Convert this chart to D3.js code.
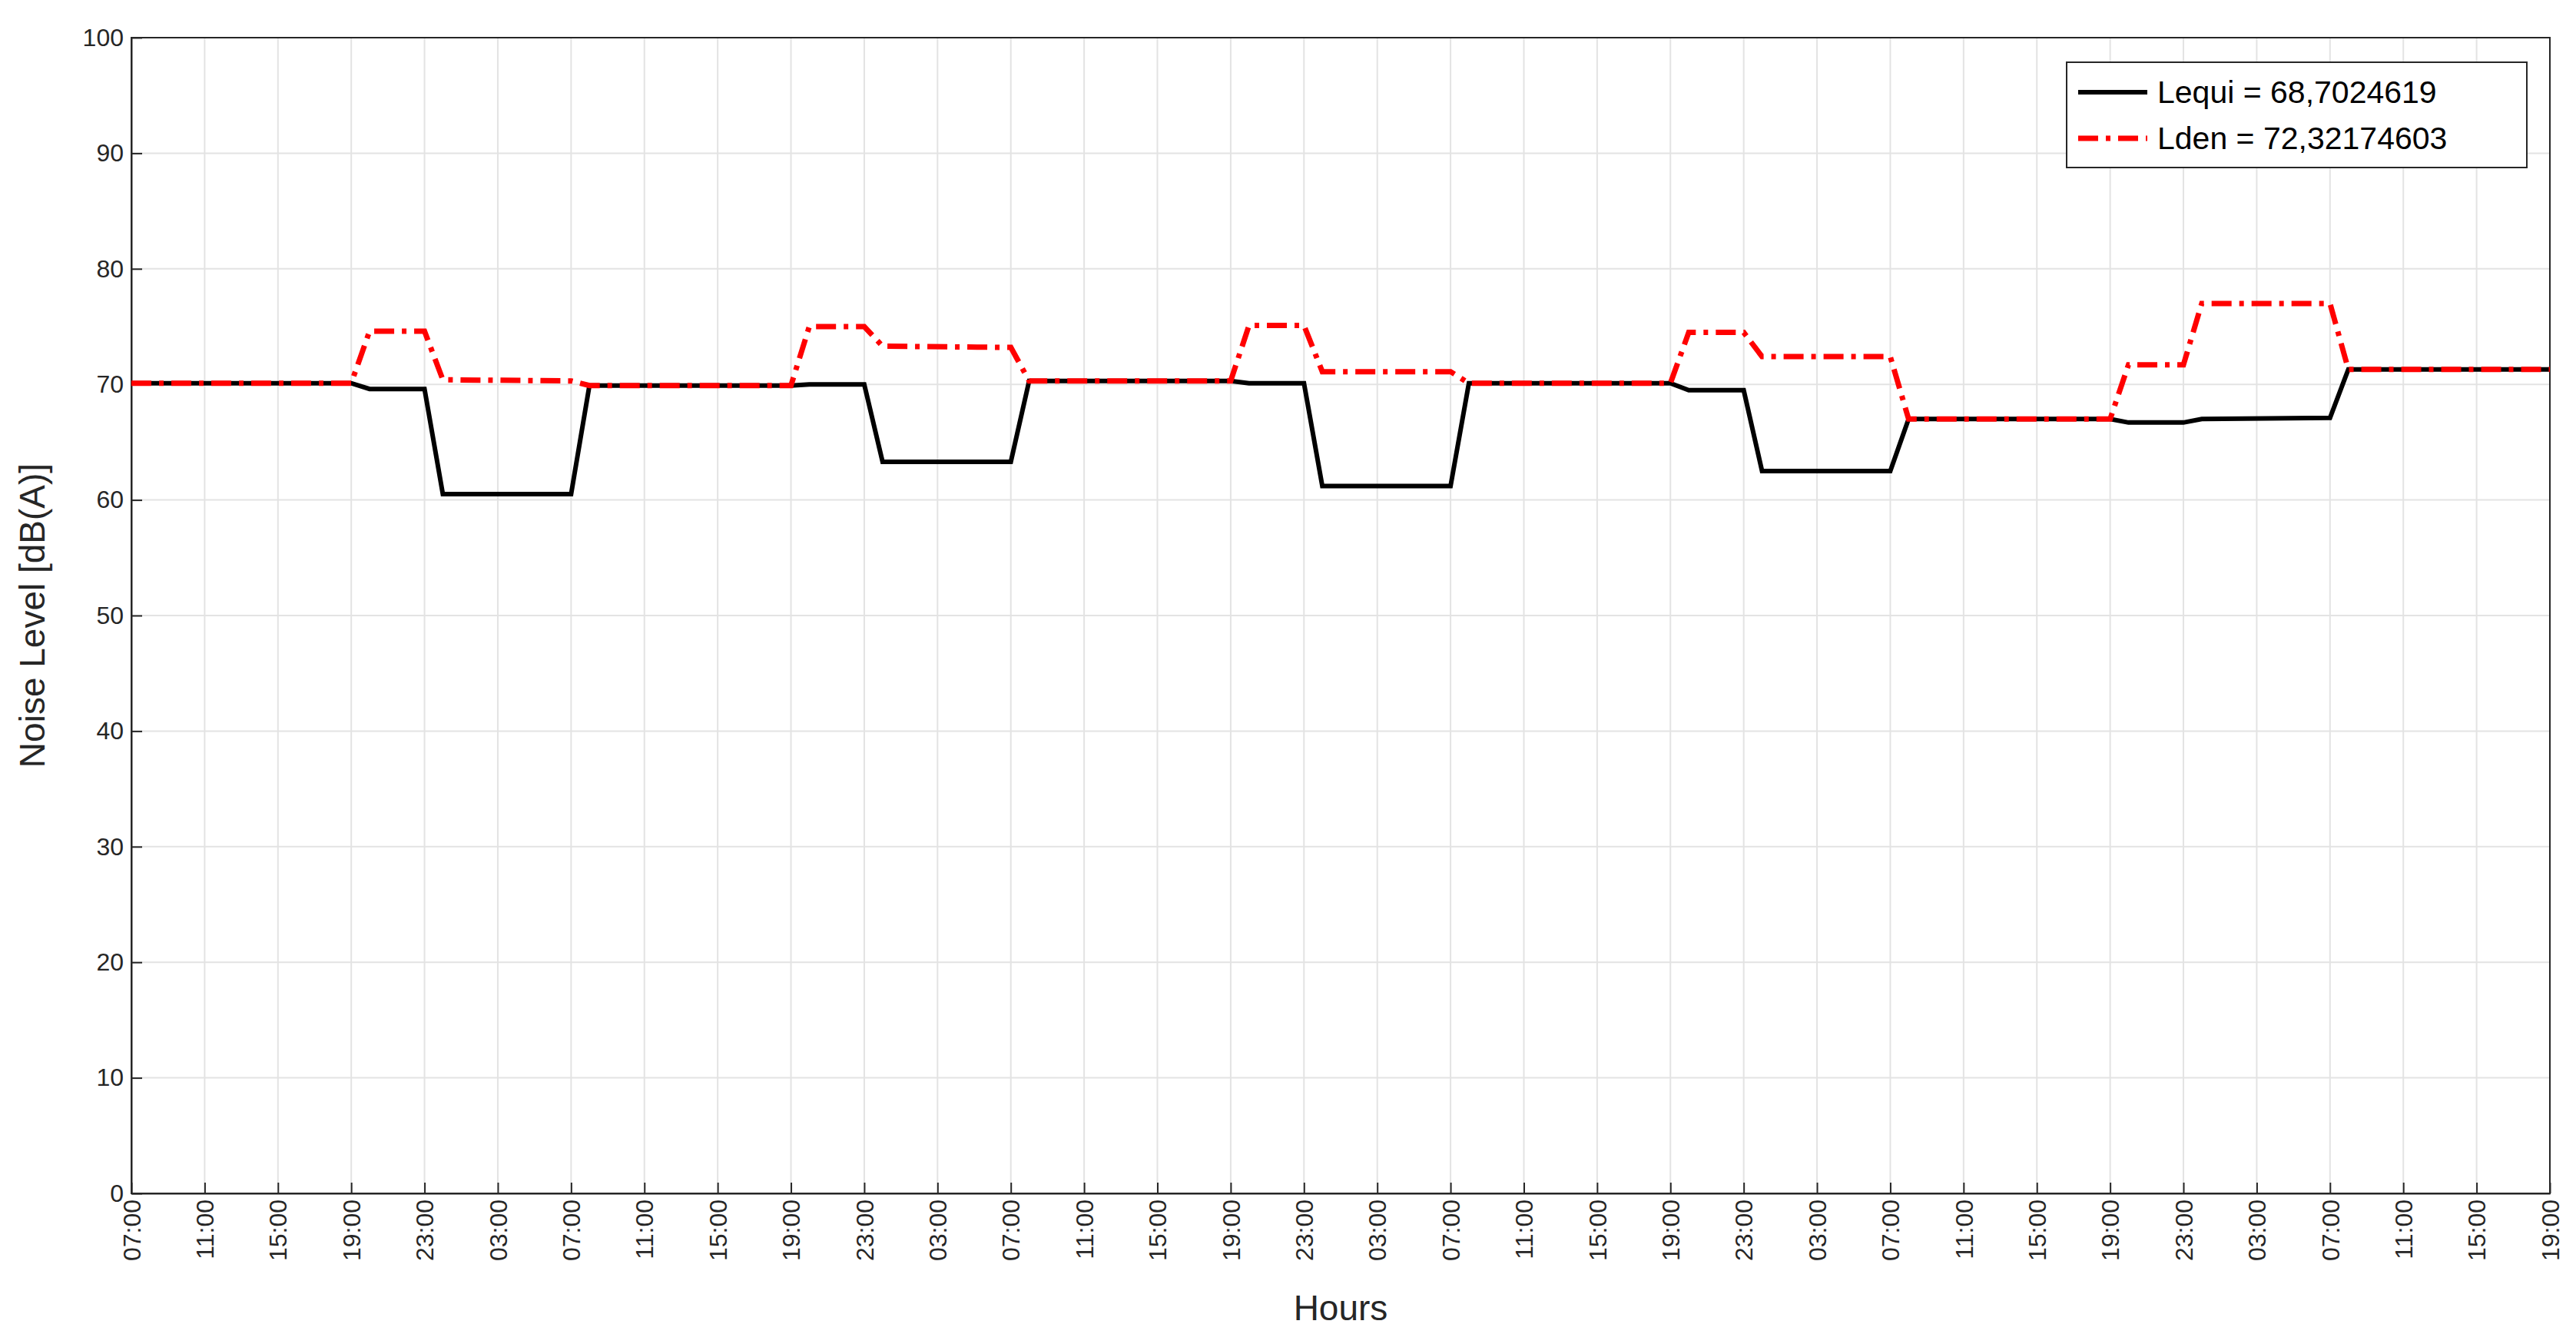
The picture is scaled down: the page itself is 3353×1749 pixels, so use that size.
<!DOCTYPE html>
<html><head><meta charset="utf-8">
<script src="https://cdn.jsdelivr.net/npm/d3@7"></script>
<style>body{margin:0;background:#fff}</style></head>
<body><svg id="c" width="3353" height="1749"></svg>
<script>
// hours elapsed since first 07:00
const tickLabels = ["07:00","11:00","15:00","19:00","23:00","03:00","07:00","11:00","15:00","19:00","23:00","03:00","07:00","11:00","15:00","19:00","23:00","03:00","07:00","11:00","15:00","19:00","23:00","03:00","07:00","11:00","15:00","19:00","23:00","03:00","07:00","11:00","15:00","19:00"];
const yTicks = [0,10,20,30,40,50,60,70,80,90,100];
const lequiHours = [0,12,13,16,17,24,25,36,37,40,41,48,49,60,61,64,65,72,73,84,85,88,89,96,97,108,109,112,113,120,121,132];
const lequiVals  = [70.1,70.1,69.6,69.6,60.5,60.5,69.9,69.9,70.0,70.0,63.3,63.3,70.3,70.3,70.1,70.1,61.2,61.2,70.1,70.1,69.5,69.5,62.5,62.5,67.0,67.0,66.7,66.7,67.0,67.1,71.3,71.3];
const ldenHours = [0,12,13,16,17,24,25,36,37,40,41,48,49,60,61,64,65,72,73,84,85,88,89,96,97,108,109,112,113,120,121,132];
const ldenVals  = [70.1,70.1,74.6,74.6,70.4,70.3,69.9,69.9,75.0,75.0,73.3,73.2,70.3,70.3,75.1,75.1,71.1,71.1,70.1,70.1,74.5,74.5,72.4,72.4,67.0,67.0,71.7,71.7,77.0,77.0,71.3,71.3];
const legendLabels = ["Lequi = 68,7024619","Lden = 72,32174603"];

const svg = d3.select("#c");
const L=171,R=3319,T=49,B=1553;
const x = d3.scaleLinear().domain([0,132]).range([L,R]);
const y = d3.scaleLinear().domain([0,100]).range([B,T]);
const tickHours = tickLabels.map((d,i)=>i*4);
const font = "Liberation Sans, Arial, sans-serif";

const g = svg.append("g");
g.selectAll(".vg").data(tickHours).join("line").attr("x1",d=>x(d)).attr("x2",d=>x(d)).attr("y1",T).attr("y2",B).attr("stroke","#e3e3e3").attr("stroke-width",2);
g.selectAll(".hg").data(yTicks).join("line").attr("y1",d=>y(d)).attr("y2",d=>y(d)).attr("x1",L).attr("x2",R).attr("stroke","#e3e3e3").attr("stroke-width",2);

const xa = svg.append("g").attr("transform",`translate(0,${B})`)
 .call(d3.axisBottom(x).tickValues(tickHours).tickFormat((d,i)=>tickLabels[i]).tickSize(-14).tickSizeOuter(0));
xa.selectAll("text").attr("transform","rotate(-90)").attr("x",-8).attr("y",0).attr("dy","0.35em").style("text-anchor","end").style("font-size","32px").style("font-family",font).attr("fill","#262626");
const ya = svg.append("g").attr("transform",`translate(${L},0)`)
 .call(d3.axisLeft(y).tickValues(yTicks).tickSize(-14).tickSizeOuter(0));
ya.selectAll("text").attr("x",-10).style("font-size","32px").style("font-family",font).attr("fill","#262626");
svg.selectAll(".domain,.tick line").attr("stroke","#262626").attr("stroke-width",2);
svg.append("rect").attr("x",L).attr("y",T).attr("width",R-L).attr("height",B-T).attr("fill","none").attr("stroke","#262626").attr("stroke-width",2);

const line = d3.line().x(d=>x(d[0])).y(d=>y(d[1]));
svg.append("path").datum(lequiHours.map((h,i)=>[h,lequiVals[i]])).attr("d",line).attr("fill","none").attr("stroke","#000").attr("stroke-width",6);
svg.append("path").datum(ldenHours.map((h,i)=>[h,ldenVals[i]])).attr("d",line).attr("fill","none").attr("stroke","#ff0000").attr("stroke-width",7).attr("stroke-dasharray","26,10,6,10");

svg.append("text").attr("x",(L+R)/2).attr("y",1718).attr("text-anchor","middle").style("font-size","46px").style("font-family",font).attr("fill","#262626").text("Hours");
svg.append("text").attr("transform",`translate(58,${(T+B)/2}) rotate(-90)`).attr("text-anchor","middle").style("font-size","46px").style("font-family",font).attr("fill","#262626").text("Noise Level [dB(A)]");

const lg = svg.append("g");
lg.append("rect").attr("x",2690).attr("y",81).attr("width",599).attr("height",137).attr("fill","#fff").attr("stroke","#262626").attr("stroke-width",2);
[["#000",null,6],["#ff0000","26,10,6,10",7]].forEach((s,i)=>{
  const yy=120+i*60;
  lg.append("line").attr("x1",2705).attr("x2",2795).attr("y1",yy).attr("y2",yy).attr("stroke",s[0]).attr("stroke-width",s[2]).attr("stroke-dasharray",s[1]);
  lg.append("text").attr("x",2808).attr("y",yy).attr("dy","0.35em").style("font-size","41px").style("font-family",font).attr("fill","#000").text(legendLabels[i]);
});
</script></body></html>
